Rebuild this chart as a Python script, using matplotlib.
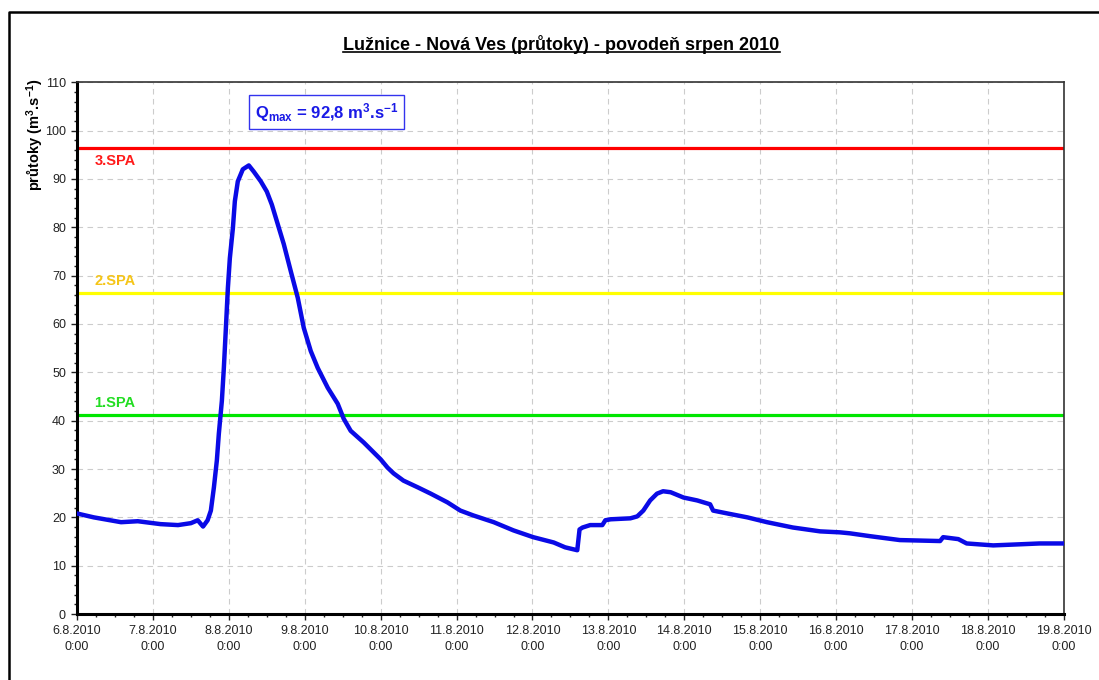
import numpy as np
import pandas as pd
import matplotlib
matplotlib.use("Agg")
import matplotlib.pyplot as plt
import matplotlib.dates as mdates
from matplotlib.ticker import MultipleLocator
from matplotlib.lines import Line2D

plt.rcParams['font.family'] = ['Liberation Sans', 'DejaVu Sans']
plt.rcParams['mathtext.fontset'] = 'custom'
plt.rcParams['mathtext.rm'] = 'Liberation Sans:bold'
plt.rcParams['mathtext.it'] = 'Liberation Sans:bold'
plt.rcParams['mathtext.bf'] = 'Liberation Sans:bold'

# time in days after 6.8.2010 0:00, discharge in m3/s
days = [0.0, 0.22, 0.58, 0.8, 1.1, 1.33, 1.5, 1.59, 1.66, 1.72, 1.763,
        1.803, 1.842, 1.868, 1.908, 1.934, 1.961, 1.987, 2.013, 2.053,
        2.079, 2.118, 2.184, 2.263, 2.329, 2.421, 2.5, 2.566, 2.645, 2.724,
        2.816, 2.908, 2.987, 3.079, 3.171, 3.303, 3.434, 3.513, 3.605,
        3.776, 4.0, 4.09, 4.17, 4.3, 4.49, 4.66, 4.88, 5.05, 5.22, 5.49,
        5.75, 6.01, 6.28, 6.43, 6.59, 6.62, 6.66, 6.76, 6.92, 6.96, 7.03,
        7.29, 7.38, 7.46, 7.55, 7.64, 7.72, 7.82, 7.99, 8.17, 8.34, 8.38,
        8.57, 8.83, 9.09, 9.43, 9.79, 10.05, 10.18, 10.45, 10.84, 11.37,
        11.41, 11.61, 11.72, 12.07, 12.38, 12.68, 13.0]
flow = [20.8, 20.0, 19.0, 19.2, 18.6, 18.4, 18.8, 19.4, 18.1, 19.4, 21.4,
        26.2, 31.8, 37.3, 44.1, 50.9, 59.2, 67.4, 73.6, 79.8, 85.4, 89.5,
        92.0, 92.8, 91.5, 89.5, 87.4, 84.7, 80.6, 76.5, 70.9, 65.4, 59.2,
        54.4, 50.9, 46.8, 43.5, 40.4, 37.9, 35.5, 32.0, 30.3, 29.1, 27.6,
        26.2, 24.9, 23.1, 21.4, 20.4, 19.0, 17.3, 15.9, 14.8, 13.8, 13.2,
        17.5, 17.9, 18.4, 18.4, 19.4, 19.6, 19.8, 20.2, 21.4, 23.5, 24.9,
        25.4, 25.2, 24.1, 23.5, 22.7, 21.4, 20.8, 20.0, 19.0, 17.9, 17.1,
        16.9, 16.7, 16.1, 15.3, 15.1, 15.9, 15.5, 14.6, 14.2, 14.4, 14.6,
        14.6]

spa_levels = [41.2, 66.5, 96.4]
spa_labels = ['1.SPA', '2.SPA', '3.SPA']
spa_line_colors = ['#00e600', '#ffff00', '#ff0000']
spa_text_colors = ['#22dd22', '#f5c518', '#ff1a1a']

start = pd.Timestamp('2010-08-06 00:00')
end = pd.Timestamp('2010-08-19 00:00')
times = start + pd.to_timedelta(days, unit='D')

fig = plt.figure(figsize=(10.99, 6.8), dpi=100)
ax = fig.add_axes([0.0701, 0.097, 0.8979, 0.782])

for lvl, col in zip(spa_levels, spa_line_colors):
    ax.axhline(lvl, color=col, lw=2.3, zorder=2)

ax.plot(times, flow, color='#0a0ae6', lw=3.2, solid_capstyle='round',
        solid_joinstyle='round', zorder=3)

# SPA labels
x_lab = start + pd.Timedelta(hours=5.5)
ax.text(x_lab, spa_levels[2] - 1.2, spa_labels[2], color=spa_text_colors[2],
        fontsize=10.5, fontweight='bold', va='top', ha='left')
ax.text(x_lab, spa_levels[1] + 1.0, spa_labels[1], color=spa_text_colors[1],
        fontsize=10.5, fontweight='bold', va='bottom', ha='left')
ax.text(x_lab, spa_levels[0] + 1.0, spa_labels[0], color=spa_text_colors[0],
        fontsize=10.5, fontweight='bold', va='bottom', ha='left')

# Qmax box
ax.text(0.253, 0.944, r'$\mathrm{Q_{max}}$ = 92,8 m$^{\mathrm{3}}$.s$^{\mathrm{-1}}$',
        transform=ax.transAxes, ha='center', va='center', color='#1a1ae6',
        fontsize=12, fontweight='bold',
        bbox=dict(boxstyle='square,pad=0.35', fc='white', ec='#3333ee', lw=1.0))

ax.set_xlim(start, end)
ax.set_ylim(0, 110)
ax.yaxis.set_major_locator(MultipleLocator(10))
ax.yaxis.set_minor_locator(MultipleLocator(2))
ax.xaxis.set_minor_locator(mdates.HourLocator(byhour=[6, 12, 18]))
ticks = pd.date_range(start, end, freq='D')
ax.set_xticks(ticks)
ax.set_xticklabels([f'{t.day}.{t.month}.{t.year}\n0:00' for t in ticks])

ax.grid(True, which='major', color='#cccccc', ls=(0, (5, 4)), lw=0.8)
ax.tick_params(which='major', direction='out', length=4, width=1,
               labelsize=9, colors='#222222', pad=4)
ax.tick_params(which='minor', direction='out', length=2.5, width=1,
               colors='#222222')
for lbl in ax.get_xticklabels():
    lbl.set_linespacing(1.45)
for side in ['left', 'bottom']:
    ax.spines[side].set_linewidth(2.2)
for side in ['top', 'right']:
    ax.spines[side].set_linewidth(1.2)
    ax.spines[side].set_color('#333333')

fig.text(35 / 1099, 1 - 135 / 680, 'průtoky (m$^{\\mathrm{3}}$.s$^{\\mathrm{-1}}$)',
         rotation=90, ha='center', va='center', fontsize=10.5, fontweight='bold')

# title with underline
title = fig.text(0.511, 1 - 44 / 680,
                 'Lužnice - Nová Ves (průtoky) - povodeň srpen 2010',
                 ha='center', va='center', fontsize=13, fontweight='bold')
fig.canvas.draw()
bb = title.get_window_extent().transformed(fig.transFigure.inverted())
fig.add_artist(Line2D([bb.x0, bb.x1], [bb.y0 + 0.002, bb.y0 + 0.002],
                      transform=fig.transFigure, color='black', lw=1.2))

# outer frame (left and top only visible)
fig.add_artist(Line2D([9 / 1099, 9 / 1099, 1.0], [0.0, 1 - 12 / 680, 1 - 12 / 680],
                      transform=fig.transFigure, color='black', lw=1.8))

fig.savefig('out.png', dpi=100)
